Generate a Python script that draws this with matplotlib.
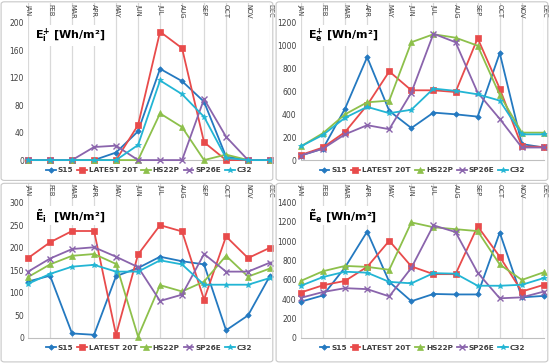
import matplotlib
matplotlib.use('Agg')
from matplotlib import pyplot as plt
from matplotlib.patches import FancyBboxPatch

months = ['JAN', 'FEB', 'MAR', 'APR', 'MAY', 'JUN', 'JUL', 'AUG', 'SEP', 'OCT', 'NOV', 'DEC']
series = ['S15', 'LATEST 20T', 'HS22P', 'SP26E', 'C32']

# E+_i
ei_plus_s15 = [0, 0, 0, 0, 11, 42, 133, 115, 85, 5, 0, 0]
ei_plus_20t = [0, 0, 0, 0, 0, 51, 187, 163, 26, 0, 0, 0]
ei_plus_hs22p = [0, 0, 0, 0, 0, 0, 68, 48, 0, 8, 0, 0]
ei_plus_sp26e = [0, 0, 0, 19, 21, 0, 0, 0, 89, 34, 0, 0]
ei_plus_c32 = [0, 0, 0, 0, 0, 22, 116, 96, 63, 3, 0, 0]

# E+_e
ee_plus_s15 = [40, 100, 450, 900, 430, 280, 415, 400, 380, 935, 140, 110]
ee_plus_20t = [45, 110, 245, 480, 775, 610, 610, 595, 1065, 625, 120, 115]
ee_plus_hs22p = [120, 235, 400, 505, 520, 1030, 1100, 1070, 1000, 570, 240, 240]
ee_plus_sp26e = [40, 100, 225, 305, 270, 590, 1105, 1030, 590, 360, 110, 110]
ee_plus_c32 = [120, 220, 370, 465, 410, 440, 625, 605, 575, 520, 225, 225]

# ~E_i
ei_tilde_s15 = [125, 138, 10, 7, 137, 155, 180, 170, 163, 17, 50, 138]
ei_tilde_20t = [177, 212, 237, 237, 7, 185, 250, 236, 85, 225, 177, 200]
ei_tilde_hs22p = [135, 163, 182, 186, 164, 3, 117, 103, 125, 182, 136, 154]
ei_tilde_sp26e = [147, 176, 197, 201, 180, 157, 82, 96, 186, 147, 147, 167]
ei_tilde_c32 = [120, 142, 158, 162, 147, 147, 172, 163, 118, 118, 118, 133]

# ~E_e
ee_tilde_s15 = [375, 440, 730, 1100, 580, 380, 455, 450, 450, 1090, 420, 435]
ee_tilde_20t = [470, 545, 590, 735, 1005, 740, 660, 660, 1155, 840, 480, 550]
ee_tilde_hs22p = [590, 690, 745, 735, 705, 1195, 1145, 1125, 1105, 760, 600, 680]
ee_tilde_sp26e = [415, 475, 515, 505, 430, 725, 1165, 1095, 675, 410, 420, 480]
ee_tilde_c32 = [540, 630, 685, 675, 580, 565, 670, 665, 540, 540, 550, 620]

colors = ['#2479C0', '#E84B4B', '#8DC04B', '#8A64AC', '#22B5D4']
markers = ['D', 's', '^', 'x', '*']
msizes = [2.8, 3.8, 3.8, 3.8, 4.2]

panels = [
    (r'$\mathbf{E^{+}_{i}}$ [Wh/m²]',
     [ei_plus_s15, ei_plus_20t, ei_plus_hs22p, ei_plus_sp26e, ei_plus_c32], 200, 40,
     [0.051, 0.559, 0.44, 0.433]),
    (r'$\mathbf{E^{+}_{e}}$ [Wh/m²]',
     [ee_plus_s15, ee_plus_20t, ee_plus_hs22p, ee_plus_sp26e, ee_plus_c32], 1200, 200,
     [0.547, 0.559, 0.442, 0.433]),
    (r'$\mathbf{\tilde{E}_{i}}$  [Wh/m²]',
     [ei_tilde_s15, ei_tilde_20t, ei_tilde_hs22p, ei_tilde_sp26e, ei_tilde_c32], 300, 50,
     [0.051, 0.069, 0.44, 0.427]),
    (r'$\mathbf{\tilde{E}_{e}}$ [Wh/m²]',
     [ee_tilde_s15, ee_tilde_20t, ee_tilde_hs22p, ee_tilde_sp26e, ee_tilde_c32], 1400, 200,
     [0.547, 0.069, 0.442, 0.427]),
]

fig = plt.figure(figsize=(5.5, 3.63), dpi=100)

# panel frames
for (x0, y0) in [(0.002, 0.503), (0.502, 0.503), (0.002, 0.003), (0.502, 0.003)]:
    fig.add_artist(FancyBboxPatch((x0, y0), 0.494, 0.492, boxstyle='round,pad=0,rounding_size=0.006',
                                  transform=fig.transFigure, fc='none', ec='#C8C8C8', lw=0.8))

x = list(range(12))
for title, data, ymax, ystep, pos in panels:
    ax = fig.add_axes(pos)
    top = ymax * 1.145
    for i, vals in enumerate(data):
        ax.plot(x, vals, color=colors[i], marker=markers[i], ms=msizes[i], lw=1.3,
                mew=1 if markers[i] == 'x' else 0.5, label=series[i], clip_on=False, zorder=3 + i)
    ax.set_xlim(0, 11)
    ax.set_ylim(0, top)
    ax.set_yticks(range(0, ymax + 1, ystep))
    ax.set_xticks(x)
    ax.set_xticklabels([])
    ax.grid(axis='x', color='#D9D9D9', lw=0.9)
    ax.tick_params(length=0, labelsize=5.5, labelcolor='#404040', pad=3)
    for s in ['top', 'left', 'right']:
        ax.spines[s].set_visible(False)
    ax.spines['bottom'].set_color('#BFBFBF')
    for i, m in enumerate(months):
        ax.text(i, top * 0.995, m, rotation=270, ha='center', va='top', fontsize=4.8, color='#404040')
    ax.text(0.03, 0.79, title, transform=ax.transAxes, fontsize=8, fontweight='bold', va='center',
            bbox=dict(fc='white', ec='none', pad=1))
    leg = ax.legend(loc='upper center', bbox_to_anchor=(0.5, -0.025), ncol=5, frameon=False,
                    fontsize=5.3, handlelength=1.3, columnspacing=0.55, handletextpad=0.25,
                    borderaxespad=0)
    for t in leg.get_texts():
        t.set_fontweight('bold')
        t.set_color('#404040')

fig.savefig('out.png', dpi=100)
